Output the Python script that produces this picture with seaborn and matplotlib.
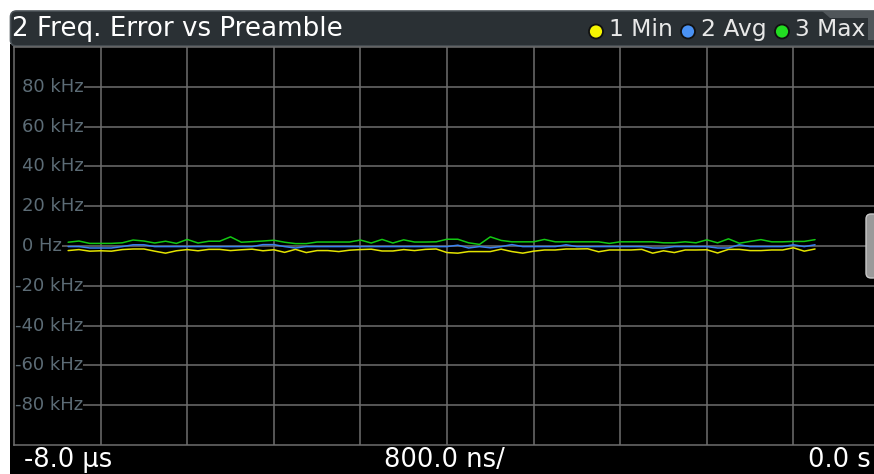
import numpy as np
import pandas as pd
import matplotlib
matplotlib.use("Agg")
import matplotlib.pyplot as plt
from matplotlib.patches import Rectangle, FancyBboxPatch, Circle, Polygon
import seaborn as sns

# ---------------- data (kHz vs time in µs) ----------------
time_us = [round(-7.5 + 0.1 * i, 2) for i in range(70)]
max_khz = [1.9, 2.5, 1.3, 1.3, 1.3, 1.6, 3.0, 2.5, 1.5, 2.4,
           1.3, 3.3, 1.5, 2.4, 2.4, 4.6, 1.9, 2.2, 2.5, 2.9,
           1.9, 1.2, 1.2, 2.0, 2.0, 2.0, 2.0, 3.0, 1.5, 3.3,
           1.5, 3.1, 2.0, 2.0, 2.1, 3.4, 3.4, 1.6, 0.8, 4.6,
           2.8, 2.1, 2.1, 2.1, 3.3, 2.1, 2.1, 2.1, 2.1, 2.1,
           1.3, 2.1, 2.1, 2.1, 2.1, 1.6, 1.6, 2.1, 1.6, 3.1,
           1.6, 3.6, 1.4, 2.3, 3.2, 2.1, 2.1, 2.3, 2.3, 3.2]
min_khz = [-2.3, -1.8, -2.6, -2.4, -2.6, -1.8, -1.5, -1.5, -2.6, -3.6,
           -2.4, -1.8, -2.4, -1.7, -1.7, -2.3, -1.9, -1.6, -2.4, -1.9,
           -3.2, -1.7, -3.3, -2.3, -2.3, -2.8, -2.1, -1.8, -1.6, -2.5,
           -2.5, -1.8, -2.3, -1.7, -1.5, -3.3, -3.6, -2.8, -2.8, -2.8,
           -1.6, -2.8, -3.6, -2.6, -2.0, -2.0, -1.5, -1.5, -1.4, -2.9,
           -2.0, -2.0, -2.0, -1.7, -3.6, -2.4, -3.3, -2.0, -2.0, -1.9,
           -3.5, -1.7, -1.7, -2.3, -2.3, -2.0, -2.0, -0.9, -2.6, -1.5]
avg_khz = [-0.3, -0.3, -1.0, -1.0, -1.0, -0.3, 0.6, 0.6, -0.3, -0.3,
           -0.3, -0.3, -0.3, -0.3, -0.3, -0.3, -0.3, -0.3, 0.7, 0.7,
           -0.3, -1.0, -0.3, -0.3, -0.3, -0.3, -0.3, -0.3, -0.3, -0.3,
           -0.3, -0.3, -0.3, -0.3, -0.3, -0.3, 0.4, -1.0, -0.3, -0.9,
           -0.3, 0.7, -0.3, -0.3, -0.3, -0.3, 0.6, -0.3, -0.3, -0.3,
           -0.3, -0.3, -0.3, -0.3, -1.0, -1.0, -0.3, -0.3, -0.3, -0.3,
           -1.0, -1.0, 0.6, -0.3, -0.3, -0.3, -0.3, 0.6, -0.3, 0.6]
series_names = ["1 Min", "2 Avg", "3 Max"]
series_colors = ["#e4e400", "#3a82f0", "#12c812"]
ytick_vals = [80, 60, 40, 20, 0, -20, -40, -60, -80]
ytick_labels = ["80 kHz", "60 kHz", "40 kHz", "20 kHz", "0 Hz",
                "-20 kHz", "-40 kHz", "-60 kHz", "-80 kHz"]
title_text = "2 Freq. Error vs Preamble"
x_start_label, x_div_label, x_end_label = "-8.0 µs", "800.0 ns/", "0.0 s"

df = pd.DataFrame({
    "t": time_us * 3,
    "f": min_khz + avg_khz + max_khz,
    "trace": [series_names[0]] * 70 + [series_names[1]] * 70 + [series_names[2]] * 70,
})

# ---------------- figure ----------------
sns.set_style("white")
plt.rcParams["font.family"] = ["DejaVu Sans"]
W, H = 874, 474
fig = plt.figure(figsize=(W / 100, H / 100), dpi=100, facecolor="white")
T = fig.dpi_scale_trans


def P(x, y):
    return (x / 100, (H - y) / 100)


# black panel
fig.patches.append(Rectangle(P(9.5, 474), (W - 9.5) / 100, (474 - 44) / 100,
                             transform=T, facecolor="black", edgecolor="none", zorder=-2))
# title bar
fig.patches.append(FancyBboxPatch(P(10.5, 46), (W - 10.5 + 10) / 100, 35 / 100,
                                  boxstyle="round,pad=0,rounding_size=0.06",
                                  transform=T, facecolor="#2a3034", edgecolor="#4a5156",
                                  linewidth=1.2, zorder=-1))
# lighter tab at top right of title bar
fig.patches.append(Polygon([P(822, 10.5), P(874, 10.5), P(874, 40), P(868, 40), P(868, 18), P(830, 18)],
                           closed=True, transform=T, facecolor="#50565a", edgecolor="none", zorder=-0.5))

# axes
ax = fig.add_axes([14 / W, 1 - 445 / H, 866 / W, 398 / H])
ax.set_zorder(1)
ax.set_facecolor("black")
sns.lineplot(data=df, x="t", y="f", hue="trace", palette=series_colors,
             hue_order=series_names, ax=ax, linewidth=1.1, legend=False,
             estimator=None, sort=False, zorder=3)
ax.set_xlim(-8.0, 0.0)
ax.set_ylim(-100, 100)
ax.set_xticks(np.arange(-7.2, -0.7, 0.8))
ax.set_yticks(ytick_vals)
ax.tick_params(length=0, labelbottom=False, labelleft=False)
ax.set_xlabel("")
ax.set_ylabel("")
ax.grid(True, color="#6e6e6e", linewidth=1.1)
ax.set_axisbelow(True)
for s in ax.spines.values():
    s.set_color("#6e6e6e")
    s.set_linewidth(1.1)
    s.set_zorder(2.5)

# y tick labels drawn inside the plot (black box hides the grid line behind them)
for v, lab in zip(ytick_vals, ytick_labels):
    xpix = 15 if lab.startswith("-") else 22
    ypix = 246 - v * 1.99
    padpt = (xpix - 14) * 0.72
    ax.text(*P(xpix, ypix), lab, transform=T, ha="left", va="center",
            fontsize=13, color="#5c6c76", clip_on=False,
            bbox=dict(boxstyle="square,pad=0", facecolor="black", edgecolor="none"),
            zorder=2.4)
    # cover the grid line between the frame and the label start
    ax.add_patch(Rectangle(P(14.5, ypix + 2), (xpix - 14.5) / 100, 4 / 100,
                           transform=T, facecolor="black", edgecolor="none",
                           zorder=2.4, clip_on=False))

# title + legend
fig.text(*P(12, 29), title_text, transform=T, ha="left", va="center",
         fontsize=18.8, color="white", zorder=6)
leg_dot_x = [596, 688, 782]
leg_txt_x = [609, 701, 795]
dot_cols = ["#f6f600", "#4a92f4", "#22dd22"]
for dx, tx, name, c in zip(leg_dot_x, leg_txt_x, series_names, dot_cols):
    fig.patches.append(Circle(P(dx, 31.5), 0.07, transform=T, facecolor=c,
                              edgecolor="#111111", linewidth=1.3, zorder=6))
    fig.text(*P(tx, 30), name, transform=T, ha="left", va="center",
             fontsize=16.8, color="#e8e8e8", zorder=6)

# bottom labels
fig.text(*P(24, 460), x_start_label, transform=T, ha="left", va="center",
         fontsize=18.5, color="white", zorder=6)
fig.text(*P(444, 460), x_div_label, transform=T, ha="center", va="center",
         fontsize=18.5, color="white", zorder=6)
fig.text(*P(871, 460), x_end_label, transform=T, ha="right", va="center",
         fontsize=18.5, color="white", zorder=6)

# scroll handle on the right edge
fig.patches.append(FancyBboxPatch(P(866, 278), 12 / 100, 64 / 100,
                                  boxstyle="round,pad=0,rounding_size=0.05",
                                  transform=T, facecolor="#9a9a9a", edgecolor="#c8c8c8",
                                  linewidth=1, zorder=6))

fig.savefig("out.png", dpi=100, facecolor="white")
